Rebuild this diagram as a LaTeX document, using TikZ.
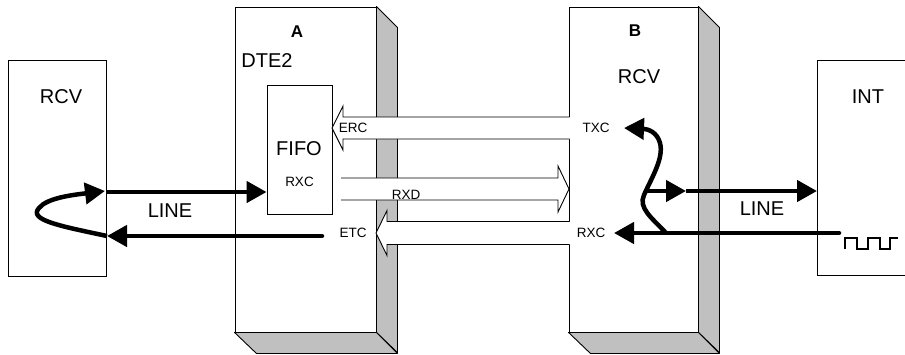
\documentclass[tikz,border=0pt]{standalone}
\usepackage{fontspec}
\setmainfont{Liberation Sans}
\usetikzlibrary{arrows.meta}
\definecolor{sidegray}{HTML}{C0C0C0}
\begin{document}
\begin{tikzpicture}[x=1pt,y=-1pt,
  thinline/.style={line width=0.9pt},
  box/.style={draw, thinline, fill=white, inner sep=0pt, rectangle},
  face/.style={draw, thinline, fill=sidegray, line join=round},
  big/.style={font=\fontsize{20}{24}\selectfont, inner sep=0pt},
  small/.style={font=\fontsize{13.5}{16}\selectfont, inner sep=0pt},
  title/.style={font=\fontsize{17}{20}\selectfont\bfseries, inner sep=0pt},
  heavy/.style={line width=4.5pt},
  tipped/.style={-{Triangle[length=20pt,width=21pt]}},
  hollowfill/.style={fill=white},
  hollowline/.style={draw, thinline, line join=miter},
]
\useasboundingbox (0,0) rectangle (905,354);
\fill[white] (0,0) rectangle (905,354);

% ---- boxes ----
\node[box, minimum width=98pt, minimum height=216pt] (rcvL) at (57,168) {};
\node[box, minimum width=141pt, minimum height=325pt] (A) at (305.5,169.5) {};
\node[box, minimum width=129pt, minimum height=325pt] (B) at (633.5,169.5) {};
\node[box, minimum width=65pt, minimum height=129pt] (fifo) at (299.5,149.5) {};

% 3D faces of A and B
\draw[face] (A.north east) -- ++(21,21) -- ++(0,325) -- (A.south east) -- cycle;
\draw[face] (A.south west) -- (A.south east) -- ++(21,21) -- ++(-141,0) -- cycle;
\draw[face] (B.north east) -- ++(21,21) -- ++(0,325) -- (B.south east) -- cycle;
\draw[face] (B.south west) -- (B.south east) -- ++(21,21) -- ++(-129,0) -- cycle;

% INT box (cut by the right edge)
\coordinate (intTR) at (906,60);
\coordinate (intBR) at (906,275);
\draw[thinline] (intTR) -- (817,60) -- (817,275) -- (intBR);
\coordinate (intW) at (817,191);

% ---- hollow arrows ----
% ERC (from B to FIFO)
\coordinate (ercT) at (332,128);
\fill[hollowfill] (ercT) -- (343,106) -- (343,117) -- (570,117) -- (570,139) -- (343,139) -- (343,150) -- cycle;
\draw[hollowline] (569.5,117) -- (343,117) -- (343,106) -- (ercT) -- (343,150) -- (343,139) -- (569.5,139);
% RXD (from FIFO to B)
\coordinate (rxdT) at (569,189);
\fill[hollowfill] (341,178) -- (558,178) -- (558,166) -- (rxdT) -- (558,212) -- (558,200) -- (341,200) -- cycle;
\draw[hollowline] (341,178) -- (558,178) -- (558,166) -- (rxdT) -- (558,212) -- (558,200) -- (341,200);
% ETC (from B to A)
\coordinate (etcT) at (376,233);
\fill[hollowfill] (etcT) -- (387,210.5) -- (387,221.5) -- (570,221.5) -- (570,244.5) -- (387,244.5) -- (387,255.5) -- cycle;
\draw[hollowline] (569.5,221.5) -- (387,221.5) -- (387,210.5) -- (etcT) -- (387,255.5) -- (387,244.5) -- (569.5,244.5);

% ---- heavy lines, left ----
\coordinate (L1s) at (106,192);
\draw[heavy, tipped] (L1s) -- (fifo.west |- L1s);
\coordinate (L2s) at (322,236);
\coordinate (L2e) at (107,236);
\draw[heavy, tipped, line cap=round] (L2s) -- (L2e);
\draw[heavy, tipped] (L2e) .. controls (60,226) and (28,220) .. (39,208)
   .. controls (47,198) and (72,195) .. (105,191);

% ---- heavy lines, right ----
\coordinate (R2s) at (839,233);
\coordinate (R2e) at (614,233);
\draw[heavy, tipped, line cap=round] (R2s) -- (R2e);
\coordinate (txcE) at (624,128);
\draw[heavy, tipped] (666,233) .. controls (652,218) and (638,208) .. (644,195)
   .. controls (652,177) and (664,158) .. (660,143)
   .. controls (657,132) and (648,129) .. (txcE);
\coordinate (brE) at (686,191);
\draw[heavy, tipped] (645,191) -- (brE);
\draw[heavy, tipped] (brE) -- (intW);

% square wave
\draw[line width=1.2pt] (845,249) -- (845,238) -- (857,238) -- (857,249) -- (868,249)
   -- (868,238) -- (880,238) -- (880,249) -- (890,249) -- (890,238) -- (898,238);

% ---- labels ----
\node[big] (tRcvL) at (61,97) {RCV};
\node[title] (tA) at (297,32) {A};
\node[big] (tDTE) at (267,60.5) {DTE2};
\node[big] (tFifo) at (299,149) {FIFO};
\node[small] (tRxcF) at (299.5,182) {RXC};
\node[small] (tErc) at (353,128) {ERC};
\node[small] (tEtc) at (353,233) {ETC};
\node[small] (tRxd) at (406,194.5) {RXD};
\node[big] (tLineL) at (170,211) {LINE};
\node[title] (tB) at (635,31) {B};
\node[big] (tRcvB) at (639,77) {RCV};
\node[small] (tTxc) at (596,128) {TXC};
\node[small] (tRxcB) at (591,233) {RXC};
\node[big] (tInt) at (868,97) {INT};
\node[big] (tLineR) at (762,208.5) {LINE};
\end{tikzpicture}
\end{document}
